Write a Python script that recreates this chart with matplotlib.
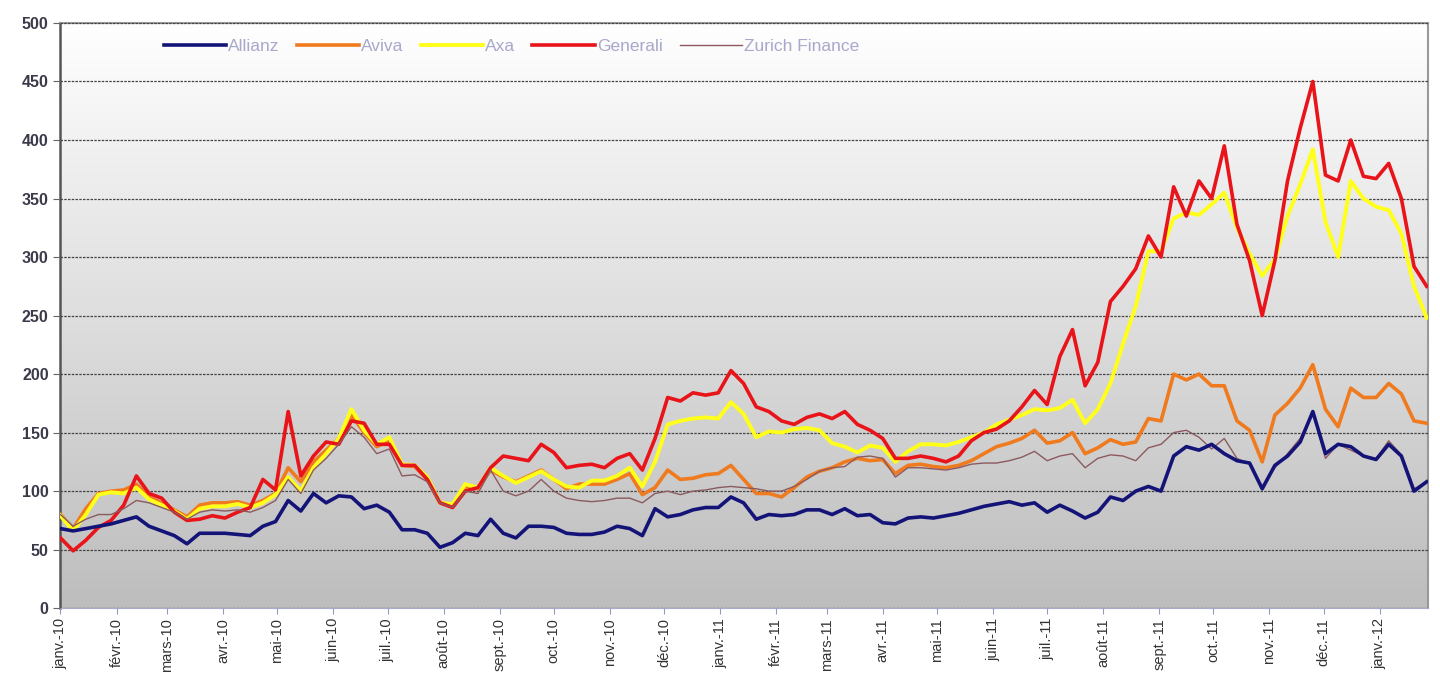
import numpy as np
import pandas as pd
import matplotlib
matplotlib.use("Agg")
import matplotlib.pyplot as plt
import matplotlib.dates as mdates

# weekly index values, Jan 2010 -> Jan 2012
dates = pd.date_range("2010-01-01", periods=109, freq="7D")

allianz = [68, 66, 68, 70, 72, 75, 78, 70, 66, 62, 55, 64, 64, 64, 63, 62, 70, 74, 92, 83,
           98, 90, 96, 95, 85, 88, 82, 67, 67, 64, 52, 56, 64, 62, 76, 64, 60, 70, 70, 69,
           64, 63, 63, 65, 70, 68, 62, 85, 78, 80, 84, 86, 86, 95, 90, 76, 80, 79, 80, 84,
           84, 80, 85, 79, 80, 73, 72, 77, 78, 77, 79, 81, 84, 87, 89, 91, 88, 90, 82, 88,
           83, 77, 82, 95, 92, 100, 104, 100, 130, 138, 135, 140, 132, 126, 124, 102, 122, 130, 142, 168,
           132, 140, 138, 130, 127, 140, 130, 100, 108]
aviva = [80, 68, 85, 98, 100, 101, 106, 95, 90, 84, 78, 88, 90, 90, 91, 88, 92, 98, 120, 108,
         125, 135, 145, 165, 150, 138, 143, 122, 121, 110, 90, 88, 104, 102, 118, 112, 108, 113, 118, 110,
         102, 106, 106, 106, 110, 115, 97, 103, 118, 110, 111, 114, 115, 122, 110, 98, 98, 95, 103, 112,
         117, 120, 125, 128, 126, 127, 115, 122, 123, 121, 120, 122, 126, 132, 138, 141, 145, 152, 141, 143,
         150, 132, 137, 144, 140, 142, 162, 160, 200, 195, 200, 190, 190, 160, 152, 125, 165, 175, 188, 208,
         170, 155, 188, 180, 180, 192, 183, 160, 158]
axa = [79, 66, 80, 97, 99, 98, 103, 93, 88, 83, 76, 85, 87, 87, 89, 86, 90, 97, 112, 100,
       120, 132, 145, 170, 152, 140, 146, 123, 122, 112, 90, 89, 106, 103, 120, 113, 107, 112, 117, 110,
       104, 103, 109, 109, 113, 120, 104, 125, 157, 160, 162, 163, 162, 176, 166, 146, 151, 150, 153, 154,
       152, 141, 138, 133, 139, 137, 125, 134, 140, 140, 139, 142, 146, 150, 157, 161, 165, 170, 169, 171,
       178, 158, 170, 192, 226, 258, 305, 305, 333, 338, 336, 345, 355, 325, 303, 284, 298, 335, 362, 392,
       330, 300, 365, 350, 343, 340, 320, 275, 248]
generali = [60, 49, 58, 69, 75, 88, 113, 98, 94, 82, 75, 76, 79, 77, 82, 86, 110, 101, 168, 113,
            130, 142, 140, 160, 158, 140, 140, 122, 122, 110, 90, 86, 100, 103, 120, 130, 128, 126, 140, 133,
            120, 122, 123, 120, 128, 132, 118, 145, 180, 177, 184, 182, 184, 203, 192, 172, 168, 160, 157, 163,
            166, 162, 168, 157, 152, 145, 128, 128, 130, 128, 125, 130, 143, 150, 153, 160, 172, 186, 174, 215,
            238, 190, 210, 262, 275, 290, 318, 300, 360, 335, 365, 350, 395, 328, 297, 250, 297, 365, 410, 450,
            370, 365, 400, 369, 367, 380, 350, 292, 275]
zurich = [80, 70, 76, 80, 80, 85, 92, 90, 86, 82, 76, 82, 84, 83, 84, 82, 86, 92, 110, 98,
          118, 128, 140, 155, 146, 132, 136, 113, 114, 108, 90, 86, 100, 98, 118, 100, 96, 100, 110, 100,
          94, 92, 91, 92, 94, 94, 90, 98, 100, 97, 100, 101, 103, 104, 103, 102, 100, 100, 104, 110,
          117, 120, 121, 129, 130, 128, 112, 120, 120, 119, 118, 120, 123, 124, 124, 126, 129, 134, 126, 130,
          132, 120, 128, 131, 130, 126, 137, 140, 150, 152, 146, 136, 145, 128, 123, 104, 120, 132, 145, 168,
          128, 140, 135, 130, 128, 143, 131, 102, 108]

month_ticks = pd.date_range("2010-01-01", "2012-01-01", freq="MS")
month_labels = ["janv.-10", "févr.-10", "mars-10", "avr.-10", "mai-10", "juin-10", "juil.-10",
                "août-10", "sept.-10", "oct.-10", "nov.-10", "déc.-10",
                "janv.-11", "févr.-11", "mars-11", "avr.-11", "mai-11", "juin-11", "juil.-11",
                "août-11", "sept.-11", "oct.-11", "nov.-11", "déc.-11", "janv.-12"]

plt.rcParams["font.family"] = ["Liberation Sans", "DejaVu Sans"]

fig = plt.figure(figsize=(14.4, 6.75), dpi=100)
ax = fig.add_axes([0.042, 0.099, 0.95, 0.867])

# grey gradient background (white top -> grey bottom)
grad = np.linspace(1.0, 0.0, 256).reshape(-1, 1)
ax.imshow(grad, extent=[0, 1, 0, 1], transform=ax.transAxes, aspect="auto",
          cmap=matplotlib.colors.LinearSegmentedColormap.from_list("bg", ["#bdbdbd", "#ffffff"]),
          zorder=0)

ax.plot(dates, aviva, color="#f07a1e", lw=2.6, label="Aviva", zorder=3)
ax.plot(dates, axa, color="#ffff1a", lw=2.8, label="Axa", zorder=4)
ax.plot(dates, generali, color="#e8141a", lw=2.6, label="Generali", zorder=5)
ax.plot(dates, zurich, color="#8c5a5e", lw=1.0, label="Zurich Finance", zorder=6)
ax.plot(dates, allianz, color="#141478", lw=2.6, label="Allianz", zorder=7)

ax.set_ylim(0, 500)
ax.set_yticks(range(0, 501, 50))
ax.set_xlim(dates[0], dates[-1] + pd.Timedelta(days=1))
ax.set_xticks(month_ticks)
ax.set_xticklabels(month_labels, rotation=90, fontsize=10.5, color="#333333")
ax.tick_params(axis="y", labelsize=11.5, labelcolor="#3a3a4a", color="#666666", length=5)
ax.tick_params(axis="x", color="#9999bb", length=4, pad=3)
for lbl in ax.get_yticklabels():
    lbl.set_fontweight("bold")

ax.grid(axis="y", color="#444444", linestyle=(0, (2, 1)), lw=0.9, zorder=1)
ax.set_axisbelow(False)
for gl in ax.get_ygridlines():
    gl.set_zorder(1)

ax.spines["left"].set_color("#555555")
ax.spines["left"].set_linewidth(1.8)
ax.spines["bottom"].set_color("#aaaacc")
ax.spines["top"].set_color("#999999")
ax.spines["top"].set_linewidth(1.5)
ax.spines["right"].set_color("#999999")
ax.spines["right"].set_linewidth(1.5)

handles, labels = ax.get_legend_handles_labels()
order = [4, 0, 1, 2, 3]
leg = ax.legend([handles[i] for i in order], [labels[i] for i in order],
                ncol=5, loc="upper left", bbox_to_anchor=(0.064, 1.0), frameon=False,
                fontsize=12.5, handlelength=3.6, handletextpad=0.1, columnspacing=1.0)
for t in leg.get_texts():
    t.set_color("#a8a8cc")

fig.savefig("out.png", dpi=100)
